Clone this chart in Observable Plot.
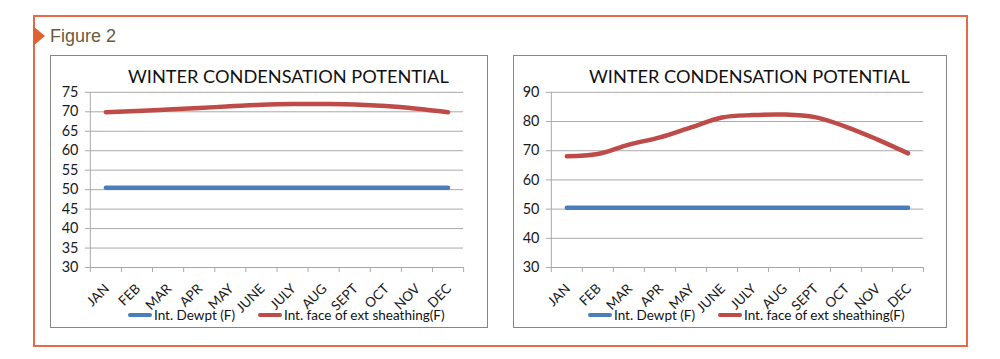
<!DOCTYPE html>
<html>
<head>
<meta charset="utf-8">
<script src="https://cdn.jsdelivr.net/npm/d3@7"></script>
<script src="https://cdn.jsdelivr.net/npm/@observablehq/plot@0.6"></script>
<style>
  html, body { margin: 0; padding: 0; background: #fff; }
  #page { position: relative; width: 1000px; height: 359px; overflow: hidden; font-family: Lato, "Open Sans", sans-serif; }
  #frame { position: absolute; left: 33px; top: 15px; width: 931px; height: 328px; border: 2px solid #e66a45; }
  #marker { position: absolute; left: 33px; top: 26px; width: 0; height: 0;
            border-top: 10px solid transparent; border-bottom: 10px solid transparent; border-left: 12px solid #e0602f; }
  #fig { position: absolute; left: 50px; top: 26px; font-family: "Liberation Sans", Arial, sans-serif; font-size: 18px; color: #6b5a3e; line-height: 20px; }
  .box { position: absolute; top: 55px; height: 273px; border: 1px solid #858585; box-sizing: border-box; background: #fff; }
  .box svg { position: absolute; left: -1px; top: -1px; overflow: visible; }
  .title { position: absolute; font-size: 18.2px; line-height: 18px; color: #111; white-space: nowrap; }
  .leg { position: absolute; font-size: 13.5px; line-height: 14px; color: #111; white-space: nowrap; display: flex; align-items: center; }
  .sw { display: inline-block; width: 24px; height: 4px; border-radius: 2px; margin-right: 2px; }
</style>
</head>
<body>
<div id="page">
  <div id="frame"></div>
  <div id="marker"></div>
  <div id="fig">Figure 2</div>
  <div class="box" id="left" style="left:50px; width:438px;"></div>
  <div class="box" id="right" style="left:513px; width:434px;"></div>
</div>
<script>
const months = ["JAN","FEB","MAR","APR","MAY","JUNE","JULY","AUG","SEPT","OCT","NOV","DEC"];
const seriesNames = ["Int. Dewpt (F)", "Int. face of ext sheathing(F)"];
const seriesColors = ["#4a7ebb", "#be4b48"];
const titleText = "WINTER CONDENSATION POTENTIAL";

// Left chart
const leftDewpt = [50.5,50.5,50.5,50.5,50.5,50.5,50.5,50.5,50.5,50.5,50.5,50.5];
const leftSheathing = [69.9,70.2,70.6,71.0,71.4,71.8,72.0,72.0,71.9,71.5,70.8,69.9];
const leftYTicks = [30,35,40,45,50,55,60,65,70,75];

// Right chart
const rightDewpt = [50.5,50.5,50.5,50.5,50.5,50.5,50.5,50.5,50.5,50.5,50.5,50.5];
const rightSheathing = [68.1,68.9,72.1,74.6,78.0,81.4,82.2,82.4,81.5,78.2,73.9,69.1];
const rightYTicks = [30,40,50,60,70,80,90];

const gridColor = "#a8a8a8";

function chart(el, {width, ml, mr, yTicks, dew, sheath, titleLeft, legLeft1, legLeft2}) {
  const rows = (vals) => vals.map((v, i) => ({pos: i + 0.5, month: months[i], v}));
  const yDomain = [yTicks[0], yTicks[yTicks.length - 1]];
  const svg = Plot.plot({
    width, height: 273,
    marginLeft: ml, marginRight: mr, marginTop: 37, marginBottom: 60,
    style: {fontFamily: "Lato, sans-serif", fontSize: "14px", color: "#1a1a1a", background: "transparent", overflow: "visible"},
    x: {type: "linear", domain: [0, 12]},
    y: {domain: yDomain},
    marks: [
      Plot.gridY(yTicks, {stroke: gridColor, strokeOpacity: 1}),
      Plot.ruleX([0], {stroke: gridColor}),
      Plot.ruleY([yDomain[0]], {stroke: gridColor}),
      Plot.axisY(yTicks, {tickSize: 5, tickPadding: 7, stroke: gridColor, label: null, fontSize: 14.5}),
      Plot.axisX(d3.range(13), {tickSize: 5, tickFormat: () => "", stroke: gridColor, label: null}),
      Plot.axisX(d3.range(12).map(i => i + 0.5), {tickSize: 0, tickPadding: 19, tickRotate: -45, dx: 1,
        tickFormat: d => months[Math.floor(d)], label: null, fontSize: 13.5}),
      Plot.line(rows(dew), {x: "pos", y: "v", stroke: seriesColors[0], strokeWidth: 4.5}),
      Plot.line(rows(sheath), {x: "pos", y: "v", stroke: seriesColors[1], strokeWidth: 4.5, curve: "catmull-rom"})
    ]
  });
  el.appendChild(svg);
  const t = document.createElement("div");
  t.className = "title"; t.textContent = titleText;
  t.style.left = titleLeft + "px"; t.style.top = "11px";
  el.appendChild(t);
  [legLeft1, legLeft2].forEach((lx, k) => {
    const d = document.createElement("div");
    d.className = "leg";
    d.style.left = lx + "px"; d.style.top = "252px";
    d.innerHTML = `<span class="sw" style="background:${seriesColors[k]}"></span>${seriesNames[k]}`;
    el.appendChild(d);
  });
}

chart(document.getElementById("left"), {width: 438, ml: 40, mr: 23, yTicks: leftYTicks, dew: leftDewpt, sheath: leftSheathing,
  titleLeft: 77, legLeft1: 77, legLeft2: 207});
chart(document.getElementById("right"), {width: 434, ml: 38, mr: 22, yTicks: rightYTicks, dew: rightDewpt, sheath: rightSheathing,
  titleLeft: 75, legLeft1: 74, legLeft2: 204});
</script>
</body>
</html>
